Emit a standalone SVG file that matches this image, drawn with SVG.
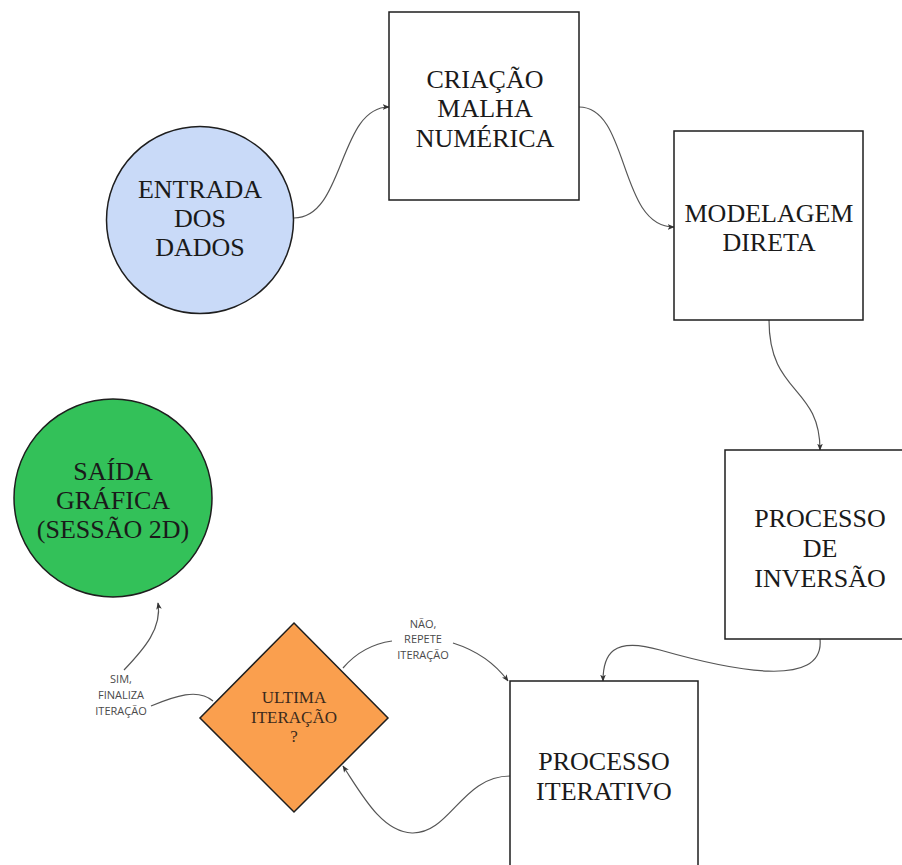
<svg xmlns="http://www.w3.org/2000/svg" width="902" height="865" viewBox="0 0 902 865">
<defs>
<marker id="arr" viewBox="0 0 10 10" refX="9" refY="5" markerWidth="7" markerHeight="7" orient="auto" markerUnits="userSpaceOnUse">
<path d="M0,1 L10,5 L0,9 L2.5,5 Z" fill="#333"/>
</marker>
<style>
.node{stroke:#1e1e1e;stroke-width:1.5}
.box{fill:#ffffff}
.t{font-family:"Liberation Serif","Times New Roman",serif;font-size:26px;fill:#1a1a1a;text-anchor:middle}
.dt{font-family:"Liberation Serif","Times New Roman",serif;font-size:17px;fill:#3a2a1c;text-anchor:middle}
.lbl{font-family:"Open Sans","Noto Sans",sans-serif;font-size:11px;fill:#4a4a4a;text-anchor:middle}
.edge{fill:none;stroke:#555;stroke-width:1.2}
</style>
</defs>
<rect width="902" height="865" fill="#ffffff"/>
<g id="connectors">
<path class="edge" d="M294,218 C345,218 338,107 389,107" marker-end="url(#arr)"/>
<path class="edge" d="M579,107 C630,107 618,227 674,227" marker-end="url(#arr)"/>
<path class="edge" d="M769,320 C769,395 820,385 820,450" marker-end="url(#arr)"/>
<path class="edge" d="M820,639 C825,690 730,670 660,650 C612,636 603,655 603,681" marker-end="url(#arr)"/>
<path class="edge" d="M343,668 C360,648 378,643 392,641"/>
<path class="edge" d="M453,643 C475,650 494,662 508,681" marker-end="url(#arr)"/>
<path class="edge" d="M510,776 C462,776 450,834 412,833 C382,832 362,795 343,766" marker-end="url(#arr)"/>
<path class="edge" d="M213,701 C198,688 175,696 151,706"/>
<path class="edge" d="M124,670 C145,648 162,628 158,603" marker-end="url(#arr)"/>
</g>
<g id="entrada">
<circle class="node" cx="200" cy="220" r="93.5" fill="#c9daf8"/>
<text class="t" x="200" y="198">ENTRADA</text>
<text class="t" x="200" y="227">DOS</text>
<text class="t" x="200" y="256">DADOS</text>
</g>
<g id="criacao">
<rect class="node box" x="389" y="12" width="190" height="188"/>
<text class="t" x="485" y="88">CRIAÇÃO</text>
<text class="t" x="485" y="117">MALHA</text>
<text class="t" x="485" y="147">NUMÉRICA</text>
</g>
<g id="modelagem">
<rect class="node box" x="674" y="131" width="189" height="189"/>
<text class="t" x="769" y="222">MODELAGEM</text>
<text class="t" x="769" y="251">DIRETA</text>
</g>
<g id="inversao">
<rect class="node box" x="725" y="450" width="190" height="189"/>
<text class="t" x="820" y="527">PROCESSO</text>
<text class="t" x="820" y="557">DE</text>
<text class="t" x="820" y="587">INVERSÃO</text>
</g>
<g id="iterativo">
<rect class="node box" x="510" y="681" width="188" height="200"/>
<text class="t" x="604" y="770">PROCESSO</text>
<text class="t" x="604" y="800">ITERATIVO</text>
</g>
<g id="decisao">
<path class="node" d="M294,623 L388,718 L294,812 L200,718 Z" fill="#fa9f4e"/>
<text class="dt" x="294" y="703">ULTIMA</text>
<text class="dt" x="294" y="723">ITERAÇÃO</text>
<text class="dt" x="294" y="742">?</text>
</g>
<g id="saida">
<circle class="node" cx="113" cy="498" r="99" fill="#33c159"/>
<text class="t" x="113" y="480">SAÍDA</text>
<text class="t" x="113" y="509">GRÁFICA</text>
<text class="t" x="113" y="538">(SESSÃO 2D)</text>
</g>
<g id="labels">
<text class="lbl" x="423" y="628">NÃO,</text>
<text class="lbl" x="423" y="643">REPETE</text>
<text class="lbl" x="423" y="659">ITERAÇÃO</text>
<text class="lbl" x="121" y="683">SIM,</text>
<text class="lbl" x="121" y="699">FINALIZA</text>
<text class="lbl" x="121" y="715">ITERAÇÃO</text>
</g>
</svg>
